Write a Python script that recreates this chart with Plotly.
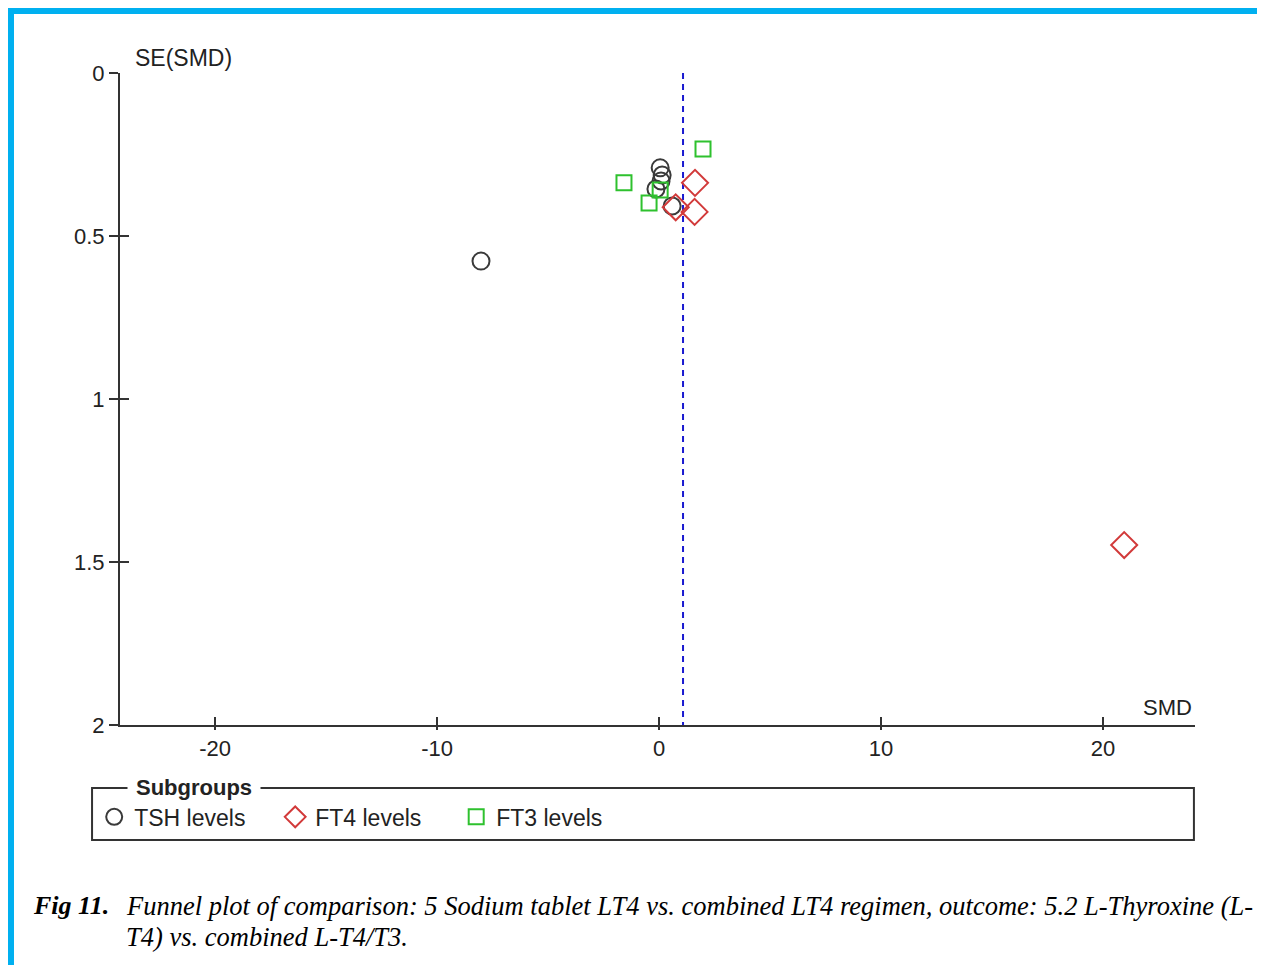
import plotly.graph_objects as go

# ---- data ----
tsh_smd = [0.05, 0.14, 0.09, -0.14, 0.59, -8.02]
tsh_se = [0.291, 0.313, 0.331, 0.356, 0.408, 0.577]

ft4_smd = [1.62, 0.75, 1.60, 20.95]
ft4_se = [0.337, 0.412, 0.426, 1.448]

ft3_smd = [1.98, -1.58, 0.05, -0.45]
ft3_se = [0.233, 0.337, 0.359, 0.399]

pooled_smd = 1.08
se_range = [0, 2]

x_ticks = [-20, -10, 0, 10, 20]
x_ticklabels = ["-20", "-10", "0", "10", "20"]
y_ticks = [0, 0.5, 1, 1.5, 2]
y_ticklabels = ["0", "0.5", "1", "1.5", "2"]

AX = "#333333"
FONT = "Liberation Sans, Arial, sans-serif"
XR = [-24.28, 24.14]
YR = [2, 0]

fig = go.Figure()

fig.add_trace(go.Scatter(
    x=[pooled_smd, pooled_smd], y=se_range, mode="lines",
    line=dict(color="#1a1ad0", width=2, dash="6px,5px"),
    showlegend=False, hoverinfo="skip"))

fig.add_trace(go.Scatter(
    x=tsh_smd, y=tsh_se, mode="markers", name="TSH levels",
    marker=dict(symbol="circle-open", size=17, color="#3a3a3a", line=dict(width=2))))
fig.add_trace(go.Scatter(
    x=ft4_smd, y=ft4_se, mode="markers", name="FT4 levels",
    marker=dict(symbol="diamond-open", size=20, color="#d23a3a", line=dict(width=2))))
fig.add_trace(go.Scatter(
    x=ft3_smd, y=ft3_se, mode="markers", name="FT3 levels",
    marker=dict(symbol="square-open", size=15, color="#2ec12e", line=dict(width=2))))

# invisible trace on overlaid axes for the inner half of the crossing ticks
fig.add_trace(go.Scatter(x=[0], y=[1], mode="markers", xaxis="x2", yaxis="y2",
                         marker=dict(opacity=0), showlegend=False, hoverinfo="skip"))

fig.update_layout(
    width=1265, height=965,
    margin=dict(l=112, r=78, t=65, b=248),
    paper_bgcolor="white", plot_bgcolor="white",
    font=dict(family=FONT, color="#222222", size=20),
    xaxis=dict(range=XR, tickvals=x_ticks, ticktext=x_ticklabels, ticks="outside",
               ticklen=3, tickwidth=2, tickcolor=AX, showline=True, linecolor=AX,
               linewidth=2, showgrid=False, zeroline=False,
               tickfont=dict(size=22, color="#222")),
    xaxis2=dict(overlaying="x", matches="x", range=XR, tickvals=x_ticks,
                ticks="inside", ticklen=8, tickwidth=2, tickcolor=AX,
                showticklabels=False, showgrid=False, zeroline=False, showline=False,
                side="bottom"),
    yaxis=dict(range=YR, tickvals=y_ticks, ticktext=y_ticklabels, ticks="outside",
               ticklen=9, tickwidth=2, tickcolor=AX, showline=True, linecolor=AX,
               linewidth=2, showgrid=False, zeroline=False,
               tickfont=dict(size=22, color="#222")),
    yaxis2=dict(overlaying="y", matches="y", range=YR, tickvals=y_ticks,
                ticks="inside", ticklen=9, tickwidth=2, tickcolor=AX,
                showticklabels=False, showgrid=False, zeroline=False, showline=False,
                side="left"),
    legend=dict(orientation="h", x=-0.024, y=-0.108, xanchor="left", yanchor="top",
                font=dict(size=23, color="#222"), bgcolor="rgba(0,0,0,0)",
                itemwidth=30, tracegroupgap=0, entrywidth=136, entrywidthmode="pixels"),
    showlegend=True,
)

# legend frame and title
fig.add_shape(type="rect", xref="paper", yref="paper", x0=-0.026, x1=0.999,
              y0=-0.1764, y1=-0.0966, line=dict(color="#333333", width=2))
fig.add_annotation(xref="paper", yref="paper", x=0.0065, y=-0.0966, xanchor="left",
                   yanchor="middle", text="<b>Subgroups</b>", showarrow=False,
                   bgcolor="white", font=dict(size=22, color="#222"), borderpad=8)

# axis titles
fig.add_annotation(xref="paper", yref="paper", x=0.012, y=1.0, xanchor="left",
                   yanchor="bottom", yshift=0, text="SE(SMD)", showarrow=False,
                   font=dict(size=23, color="#222"))
fig.add_annotation(xref="paper", yref="paper", x=0.9995, y=0.0, xanchor="right",
                   yanchor="bottom", yshift=3, text="SMD", showarrow=False,
                   font=dict(size=22, color="#222"))

# caption
CAP = "Liberation Serif, Times New Roman, serif"
fig.add_annotation(xref="paper", yref="paper", x=-0.0832, y=-0.277, xanchor="left",
                   yanchor="middle", showarrow=False,
                   text="<b><i>Fig 11.</i></b>",
                   font=dict(family=CAP, size=26, color="black"))
fig.add_annotation(xref="paper", yref="paper", x=0.0037, y=-0.277, xanchor="left",
                   yanchor="middle", showarrow=False,
                   text="<i>Funnel plot of comparison: 5 Sodium tablet LT4 vs. combined LT4 regimen, outcome: 5.2 L-Thyroxine (L-</i>",
                   font=dict(family=CAP, size=26.5, color="black"))
fig.add_annotation(xref="paper", yref="paper", x=0.0037, y=-0.325, xanchor="left",
                   yanchor="middle", showarrow=False,
                   text="<i>T4) vs. combined L-T4/T3.</i>",
                   font=dict(family=CAP, size=26.5, color="black"))

# blue frame (top and left edges visible)
fig.add_shape(type="rect", xref="paper", yref="paper", x0=-0.1014, x1=1.3,
              y0=-0.6, y1=1.0951, line=dict(color="#00b0f0", width=6))

fig.write_html("out.html")
